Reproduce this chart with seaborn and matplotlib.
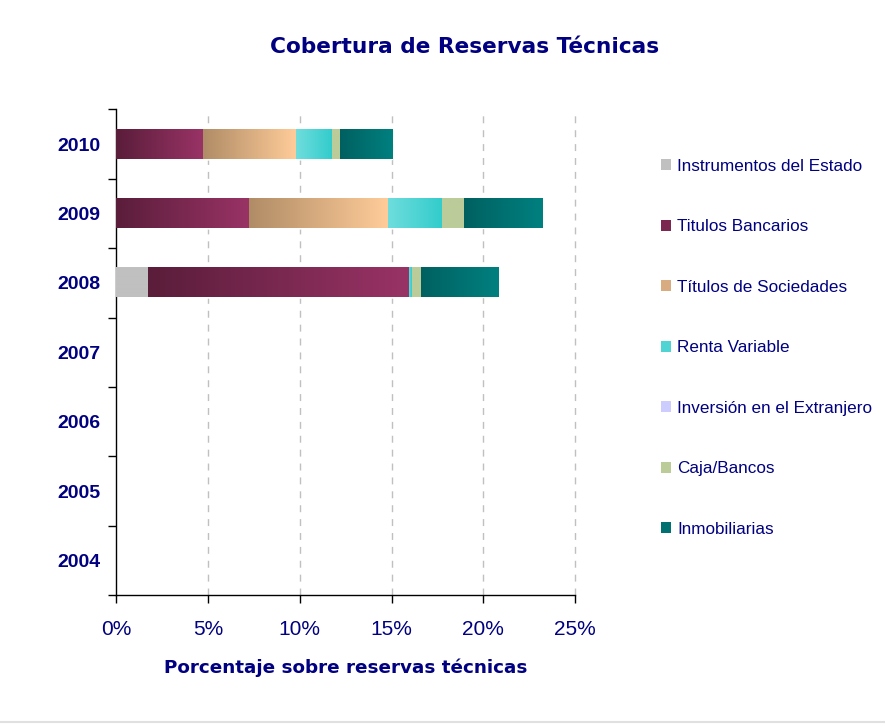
import matplotlib
matplotlib.use("Agg")
import matplotlib.pyplot as plt
from matplotlib.colors import LinearSegmentedColormap
from matplotlib.patches import Patch
from matplotlib.lines import Line2D
import numpy as np
import pandas as pd
import seaborn as sns

years = ['2010', '2009', '2008', '2007', '2006', '2005', '2004']
categories = ['Instrumentos del Estado', 'Titulos Bancarios', 'Títulos de Sociedades',
              'Renta Variable', 'Inversión en el Extranjero', 'Caja/Bancos', 'Inmobiliarias']

# % sobre reservas tecnicas
instrumentos_estado = [0.0, 0.0, 1.74, 0, 0, 0, 0]
titulos_bancarios = [4.73, 7.23, 14.18, 0, 0, 0, 0]
titulos_sociedades = [5.05, 7.55, 0.0, 0, 0, 0, 0]
renta_variable = [1.94, 2.96, 0.20, 0, 0, 0, 0]
inversion_extranjero = [0.0, 0.0, 0.0, 0, 0, 0, 0]
caja_bancos = [0.45, 1.17, 0.45, 0, 0, 0, 0]
inmobiliarias = [2.88, 4.30, 4.29, 0, 0, 0, 0]

# gradient (left, right) per category
grad_colors = [('#C0C0C0', '#C0C0C0'), ('#5A1D3A', '#993366'), ('#B08C66', '#FFCC99'),
               ('#70DDDD', '#33CCCC'), ('#CCCCFF', '#CCCCFF'), ('#BBCC99', '#BBCC99'),
               ('#006060', '#008080')]
legend_colors = ['#C0C0C0', '#7A2850', '#D8AC80', '#4FD3D3', '#CCCCFF', '#BBCC99', '#007070']

navy = '#000080'

df = pd.DataFrame({'year': years})
for name, vals in zip(categories, [instrumentos_estado, titulos_bancarios, titulos_sociedades,
                                   renta_variable, inversion_extranjero, caja_bancos,
                                   inmobiliarias]):
    df[name] = vals
cum = df[categories].cumsum(axis=1)
start = cum - df[categories]

sns.set_style('ticks')
plt.rcParams['font.family'] = ['Liberation Sans', 'DejaVu Sans']

fig = plt.figure(figsize=(8.85, 7.24), dpi=100)
ax = fig.add_axes([0.131, 0.178, 0.519, 0.671])

# stacked bars: draw cumulative totals largest first, then paint gradients per segment
for k in range(len(categories) - 1, -1, -1):
    n_before = len(ax.patches)
    sns.barplot(x=cum[categories[k]], y=df['year'], order=years, orient='h',
                color=legend_colors[k], width=0.42, ax=ax, zorder=2)
    cmap = LinearSegmentedColormap.from_list('g%d' % k, list(grad_colors[k]))
    for p in ax.patches[n_before:]:
        i = int(round(p.get_y() + p.get_height() / 2))
        x0, x1 = start[categories[k]].iloc[i], cum[categories[k]].iloc[i]
        if x1 - x0 <= 0:
            continue
        ax.imshow(np.linspace(0, 1, 256).reshape(1, -1), cmap=cmap, aspect='auto',
                  extent=(x0, x1, p.get_y() + p.get_height(), p.get_y()),
                  interpolation='bilinear', zorder=3)

ax.set_xlim(0, 25)
ax.set_ylim(6.5, -0.5)
ax.set_xticks([0, 5, 10, 15, 20, 25])
ax.set_xticklabels(['%d%%' % v for v in [0, 5, 10, 15, 20, 25]])
ax.set_yticks(range(len(years)))
ax.set_yticklabels(years)
ax.set_yticks(np.arange(-0.5, len(years), 1), minor=True)

for x in [5, 10, 15, 20, 25]:
    ax.axvline(x, color='#C0C0C0', lw=1, ls=(0, (5, 5)), zorder=1, clip_on=False)

sns.despine(ax=ax, top=True, right=True)
for s in ['left', 'bottom']:
    ax.spines[s].set_color('black')
    ax.spines[s].set_linewidth(1)

ax.tick_params(axis='y', which='major', length=0, pad=11, labelsize=14, labelcolor=navy)
ax.tick_params(axis='y', which='minor', length=6, width=1, color='black')
ax.tick_params(axis='x', which='major', length=6, width=1, color='black', pad=12,
               labelsize=15, labelcolor=navy)
for t in ax.get_yticklabels():
    t.set_fontweight('bold')

ax.set_ylabel('')
ax.set_xlabel('Porcentaje sobre reservas técnicas', fontsize=13.2, fontweight='bold',
              color=navy, labelpad=14, family='DejaVu Sans')

fig.text(0.525, 1 - 47 / 724, 'Cobertura de Reservas Técnicas', ha='center', va='center',
         fontsize=15.6, fontweight='bold', color=navy, family='DejaVu Sans')

handles = [Patch(facecolor=c, edgecolor='none') for c in legend_colors]
fig.legend(handles, categories, loc='upper left', bbox_to_anchor=(0.747, 0.7805),
           frameon=False, fontsize=12.3, labelcolor=navy, labelspacing=2.66,
           handlelength=0.6, handleheight=0.6, handletextpad=0.35,
           borderpad=0, borderaxespad=0)

fig.add_artist(Line2D([0, 1], [0.003, 0.003], color='#E0E0E0', lw=1.5,
                      transform=fig.transFigure))

fig.savefig('out.png', dpi=100, facecolor='white')
